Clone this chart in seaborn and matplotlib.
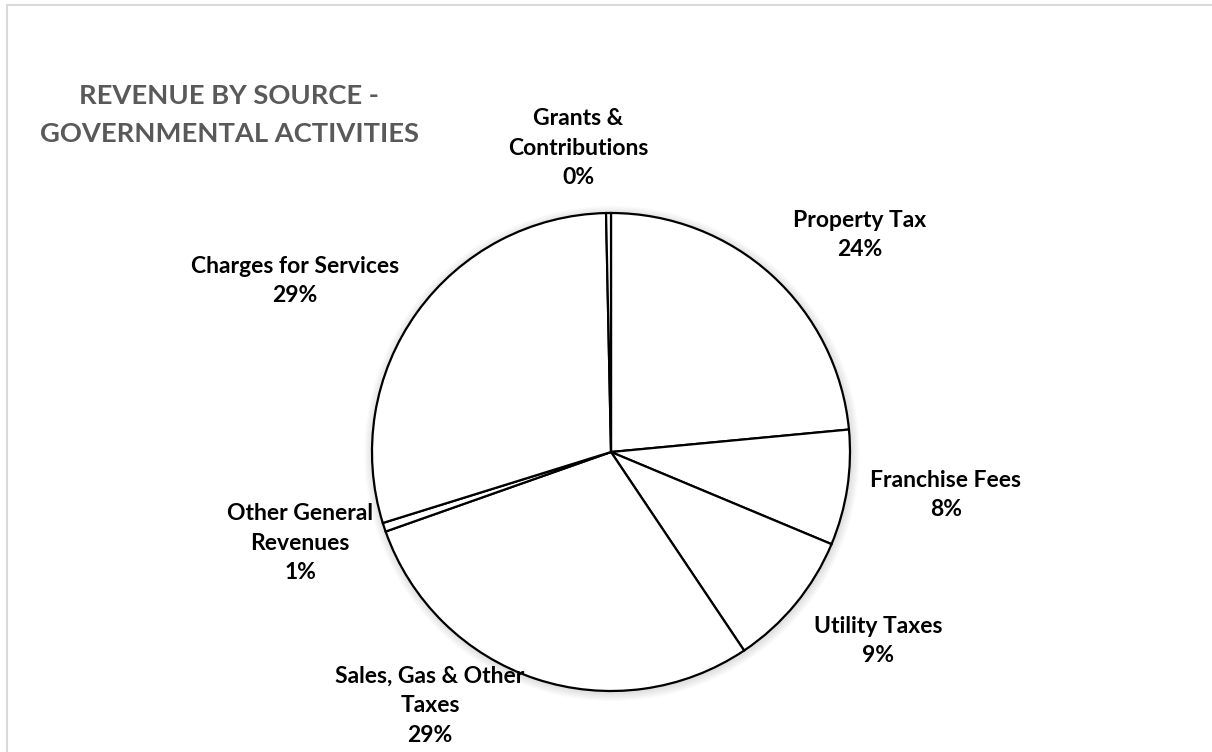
import matplotlib
matplotlib.use("Agg")
import matplotlib.pyplot as plt
import seaborn as sns
from matplotlib.patches import Rectangle, Circle

categories = ["Property Tax", "Franchise Fees", "Utility Taxes",
              "Sales, Gas & Other\nTaxes", "Other General\nRevenues",
              "Charges for Services", "Grants &\nContributions"]
shares = [23.5, 7.8, 9.3, 29.0, 0.6, 29.47, 0.33]
pct_labels = ["24%", "8%", "9%", "29%", "1%", "29%", "0%"]

sns.set_theme(style="white")
plt.rcParams['font.family'] = ['Lato', 'DejaVu Sans']

W, H = 1212, 752
fig = plt.figure(figsize=(W / 100, H / 100), dpi=100)
fig.patch.set_facecolor("white")
ax = fig.add_axes([0, 0, 1, 1])

cx, cy, R = 611, 452, 239

# soft shadow under the pie
for k in range(6):
    ax.add_patch(Circle((0.004, -0.006), 1.0 + 0.006 * (6 - k),
                        facecolor="black", edgecolor="none", alpha=0.018,
                        zorder=0))

wedges, _ = ax.pie(shares, startangle=90, counterclock=False, radius=1,
                   center=(0, 0),
                   colors=["white"] * len(shares),
                   wedgeprops=dict(edgecolor="black", linewidth=1.6,
                                   zorder=2))

ax.set_xlim(-cx / R, (W - cx) / R)
ax.set_ylim(-(H - cy) / R, cy / R)
ax.set_aspect("equal")
ax.axis("off")

# label anchor positions (pixel layout)
label_pos = [(860, 235), (946, 495), (878, 641), (430, 706),
             (300, 543), (295, 281), (578, 148)]
for name, pct, (px, py) in zip(categories, pct_labels, label_pos):
    ax.text((px - cx) / R, (cy - py) / R, f"{name}\n{pct}",
            ha="center", va="center", fontsize=16.5, fontweight="bold",
            color="black", linespacing=1.5, zorder=5)

fig.text(229 / W, 1 - 115 / H, "REVENUE BY SOURCE -\nGOVERNMENTAL ACTIVITIES",
         ha="center", va="center", fontsize=19.7, fontweight="bold",
         color="#595959", linespacing=1.67)

# chart-area border (left and top visible)
fig.patches.append(Rectangle((7 / W, -0.05), 1.2, (H - 5) / H + 0.05,
                             transform=fig.transFigure, fill=False,
                             edgecolor="#d9d9d9", linewidth=1.5))

fig.savefig("out.png", dpi=100)
